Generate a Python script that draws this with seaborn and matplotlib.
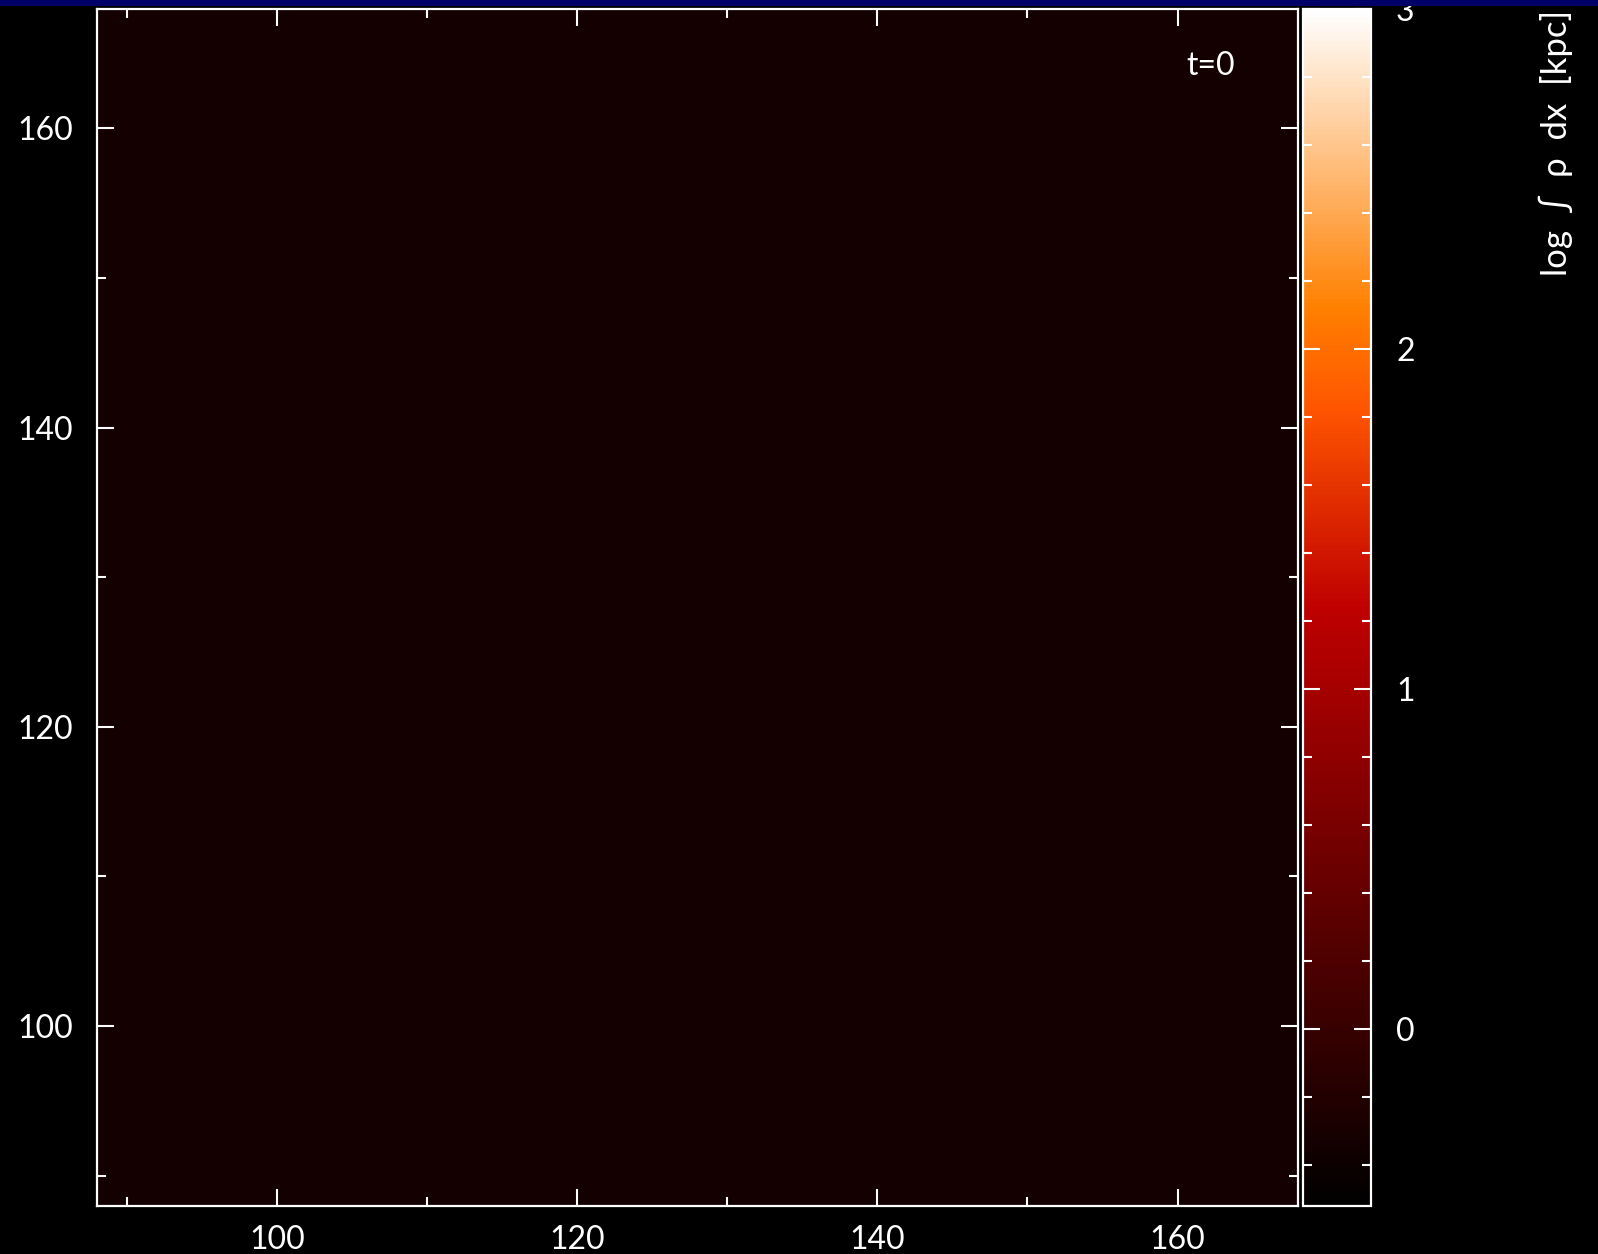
import numpy as np
import pandas as pd
import seaborn as sns
import matplotlib.pyplot as plt
from matplotlib.ticker import FixedLocator
from matplotlib.patches import Rectangle

# field of view (kpc) and the uniform t=0 column density
x_range = (88.0, 168.0)
y_range = (88.0, 168.0)
cell_size = 1.0
field_level = -0.34          # log column density of the initial uniform medium
snapshot_label = "t=0"

x_major = [100, 120, 140, 160]
x_minor = [90, 110, 130, 150]
y_major = [100, 120, 140, 160]
y_minor = [90, 110, 130, 150]

cbar_range = (-0.52, 3.0)
cbar_major = [0, 1, 2, 3]
cbar_minor = [-0.4, -0.2, 0.2, 0.4, 0.6, 0.8, 1.2, 1.4, 1.6, 1.8,
              2.2, 2.4, 2.6, 2.8]
cbar_label = "log  \u222b  \u03c1  dx  [kpc]"

plt.rcParams['font.family'] = ['Lato', 'DejaVu Sans']

x_centers = np.arange(x_range[0] + cell_size / 2, x_range[1], cell_size)
y_centers = np.arange(y_range[0] + cell_size / 2, y_range[1], cell_size)
density = pd.DataFrame(np.full((len(y_centers), len(x_centers)), field_level),
                       index=y_centers, columns=x_centers)

fig = plt.figure(figsize=(15.98, 12.54), dpi=100, facecolor='black')
ax = fig.add_axes([0.0607, 0.0386, 0.7513, 0.9545])
cax = fig.add_axes([0.8155, 0.0386, 0.0425, 0.9545])

sns.heatmap(density, ax=ax, cbar_ax=cax, cmap='gist_heat',
            vmin=cbar_range[0], vmax=cbar_range[1],
            xticklabels=False, yticklabels=False)
ax.invert_yaxis()


def to_index(vals, lo):
    return [(v - lo) / cell_size for v in vals]


ax.set_xticks(to_index(x_major, x_range[0]))
ax.set_xticklabels([str(v) for v in x_major], rotation=0)
ax.set_xticks(to_index(x_minor, x_range[0]), minor=True)
ax.set_yticks(to_index(y_major, y_range[0]))
ax.set_yticklabels([str(v) for v in y_major], rotation=0)
ax.set_yticks(to_index(y_minor, y_range[0]), minor=True)
ax.set_xlabel('')
ax.set_ylabel('')

for s in ax.spines.values():
    s.set_visible(True)
    s.set_color('white')
    s.set_linewidth(1.6)

ax.tick_params(which='both', direction='in', colors='white', labelcolor='white',
               top=True, right=True, bottom=True, left=True, width=1.5)
ax.tick_params(which='major', length=12.5, labelsize=23)
ax.tick_params(which='minor', length=6.5)
ax.tick_params(axis='x', which='major', pad=14)
ax.tick_params(axis='y', which='major', pad=17)

ax.text(0.948, 0.952, snapshot_label, transform=ax.transAxes, color='white',
        fontsize=23, ha='right', va='center')

cb = ax.collections[0].colorbar
cb.outline.set_linewidth(1.6)
cb.outline.set_edgecolor('white')
cb.set_ticks(cbar_major)
cb.ax.yaxis.set_minor_locator(FixedLocator(cbar_minor))
cb.ax.tick_params(which='both', direction='in', colors='white',
                  labelcolor='white', left=True, right=True, width=1.5)
cb.ax.tick_params(which='major', length=12.5, labelsize=23, pad=18)
cb.ax.tick_params(which='minor', length=6.5)

fig.text(1556 / 1598, 1 - 10 / 1254, cbar_label, rotation=90, color='white',
         fontsize=25, ha='center', va='top')

# slide banner along the top edge
fig.patches.append(Rectangle((0, 1 - 6 / 1254), 1, 6 / 1254,
                             transform=fig.transFigure, facecolor='#000066',
                             edgecolor='none', zorder=10))

fig.savefig('out.png', dpi=100, facecolor='black')
